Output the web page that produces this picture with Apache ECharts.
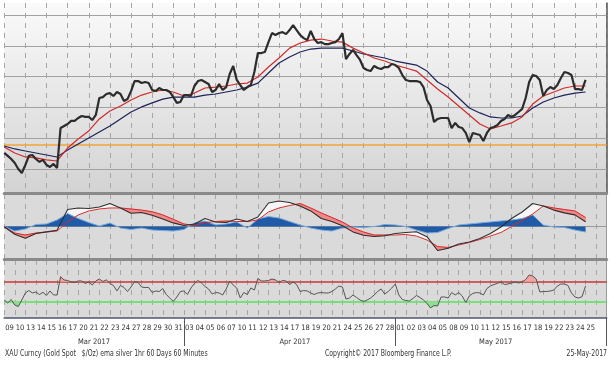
<!DOCTYPE html>
<html><head><meta charset="utf-8">
<script src="https://cdn.jsdelivr.net/npm/echarts@6/dist/echarts.min.js"></script>
<style>html,body{margin:0;padding:0;background:#fff}#c{width:614px;height:370px}</style>
</head><body><div id="c"></div>
<script>
// ---------------- DATA ----------------
const dayLabels = ['09','10','13','14','15','16','17','20','21','22','23','24','27','28','29','30','31',
  '03','04','05','06','07','10','11','12','13','14','17','18','19','20','21','24','25','26','27','28',
  '01','02','03','04','05','08','09','10','11','12','15','16','17','18','19','22','23','24','25'];
const monthNames = ['Mar 2017','Apr 2017','May 2017'];
const samplesPerDay = 3; // price & RSI sampled every 8 hours

const price = [1210.4,1208.5,1206.5,1203.9,1200.0,1197.4,1202.6,1208.5,1209.1,1206.5,
1204.6,1205.9,1202.6,1201.3,1203.3,1200.7,1226.6,1227.9,1229.2,1231.2,
1231.2,1233.1,1234.4,1233.8,1233.8,1231.8,1235.1,1246.1,1246.7,1248.7,
1249.3,1247.4,1250.0,1248.7,1244.2,1245.4,1250.6,1257.1,1257.1,1255.8,
1256.5,1255.8,1251.3,1250.6,1252.6,1251.3,1251.3,1250.0,1246.7,1242.9,
1243.5,1248.0,1248.0,1247.4,1253.9,1257.1,1257.8,1256.5,1255.2,1250.0,
1251.3,1255.2,1251.3,1253.2,1261.7,1266.9,1257.8,1254.5,1251.3,1253.2,
1254.5,1263.0,1275.3,1275.3,1276.0,1282.4,1288.3,1287.0,1288.3,1288.9,
1287.6,1290.2,1293.5,1290.2,1287.0,1285.0,1283.7,1289.6,1284.4,1281.8,
1282.4,1281.1,1281.1,1281.8,1282.4,1284.4,1288.3,1271.4,1274.7,1277.3,
1274.0,1270.8,1265.6,1264.3,1263.6,1266.9,1265.6,1264.9,1266.2,1266.2,
1268.2,1267.5,1265.6,1261.0,1257.8,1257.1,1257.1,1257.1,1256.5,1253.2,
1244.8,1240.9,1230.5,1232.5,1233.1,1233.1,1233.1,1226.6,1229.9,1227.3,
1226.6,1223.4,1217.5,1223.4,1222.7,1222.1,1218.2,1223.4,1226.6,1227.3,
1228.6,1231.2,1232.5,1235.1,1233.8,1235.1,1237.0,1239.0,1246.1,1256.5,
1261.0,1260.4,1257.8,1247.4,1251.3,1253.2,1251.9,1254.5,1259.1,1263.0,
1262.3,1261.0,1251.9,1251.9,1251.3,1257.8];

const emaFast = [1214.3,1210.4,1207.8,1207.2,1205.9,1205.2,1213.6,1219.5,1224.7,1232.5,
1237.7,1240.9,1244.8,1248.0,1250.0,1251.3,1250.0,1247.4,1249.3,1252.6,
1253.2,1253.9,1255.2,1255.8,1259.7,1266.2,1272.1,1278.5,1281.8,1283.7,
1284.4,1283.1,1282.4,1278.5,1275.3,1272.1,1270.1,1267.5,1265.6,1263.6,
1257.8,1251.9,1246.7,1240.9,1235.1,1229.2,1226.0,1227.9,1229.9,1233.8,
1242.2,1247.4,1250.0,1252.6,1253.9,1253.9];

const emaSlow = [1214.9,1213.0,1211.7,1210.4,1209.1,1207.8,1212.3,1216.2,1220.1,1224.0,
1227.9,1232.5,1237.0,1240.3,1242.9,1245.4,1246.7,1246.7,1246.7,1248.0,
1248.7,1250.0,1251.3,1253.2,1255.8,1262.3,1268.8,1272.7,1276.0,1277.9,
1278.5,1278.5,1278.5,1276.6,1274.7,1273.4,1272.1,1270.1,1268.8,1267.5,
1263.6,1256.5,1252.6,1246.1,1239.6,1236.4,1233.8,1233.1,1233.1,1234.4,
1239.6,1243.5,1246.1,1248.0,1249.3,1250.0];

const macdLine = [-0.05,-1.95,-2.95,-1.75,-1.35,-0.95,4.25,4.63,4.5,4.88,
5.75,4.63,3.3,3.5,2.8,1.9,0.9,0.25,0.63,2.0,
1.13,1.0,1.88,1.25,2.38,5.88,6.38,6.0,5.1,3.9,
2.0,1.25,0.2,-1.35,-2.2,-2.5,-2.3,-1.75,-1.5,-1.3,
-2.55,-6.0,-5.45,-4.38,-3.88,-3.0,-1.75,-0.13,2.0,3.63,
5.75,5.13,4.1,3.4,2.9,1.2];

const macdSignal = [-0.13,-1.63,-2.13,-1.63,-1.38,-1.13,1.13,2.88,3.88,4.38,
4.63,4.63,4.38,4.1,3.7,2.9,1.8,0.63,0.25,1.0,
1.25,1.38,1.25,1.25,1.63,3.63,4.63,5.25,5.75,4.63,
3.38,2.25,1.13,-0.38,-1.38,-2.13,-2.13,-2.13,-2.0,-2.38,
-3.38,-5.0,-5.25,-4.63,-4.0,-3.25,-2.38,-1.5,0,1.5,
3.13,5.13,4.63,4.25,3.88,2.25];

const macdHist = [0,-1.13,-0.63,0.5,0.63,1.63,3.25,2.0,1.0,0.13,
0.88,-0.38,-0.75,-0.38,-0.88,-1.0,-1.13,-0.75,0.88,1.38,
0.38,0.63,1.13,-0.38,1.88,2.5,2.13,1.25,0.38,-0.38,
-0.88,-1.13,-0.38,-0.13,-0.25,0,0.5,0.38,0,-0.88,
-1.63,-1.5,-0.5,0.38,0.63,0.88,1.13,1.38,1.63,2.0,
2.88,0.38,-0.13,-0.25,-0.88,-1.38];

const rsi = [34.0,28.2,35.0,24.3,21.4,34.0,47.7,52.5,47.7,49.6,
44.7,49.0,42.8,51.6,43.8,43.8,79.4,73.0,72.0,69.1,
68.1,71.0,71.0,66.2,69.1,63.2,71.0,74.9,70.0,73.0,
66.5,62.3,51.6,62.3,58.4,50.6,59.3,70.0,68.1,59.3,
58.4,58.4,48.6,51.6,50.6,56.4,44.7,37.9,31.1,39.9,
50.6,51.6,44.7,57.4,66.2,72.0,67.1,60.3,55.5,45.7,
48.6,47.7,43.8,55.5,71.0,63.2,57.4,37.9,48.6,44.7,
57.4,53.5,75.9,71.0,71.0,72.0,74.9,73.0,68.1,72.0,
71.0,64.2,69.1,64.2,50.6,52.5,51.6,47.7,44.7,47.7,
48.6,47.7,47.7,50.6,55.5,61.3,59.3,36.0,37.9,43.8,
38.9,34.0,31.1,34.0,37.9,43.8,50.6,55.5,45.7,50.6,
57.4,65.2,43.8,35.0,33.1,32.1,37.0,42.8,38.9,34.0,
27.6,18.5,23.3,22.4,39.9,39.9,37.9,48.6,43.8,48.6,
41.8,29.2,41.8,46.7,48.6,47.7,43.8,56.4,61.3,64.2,
66.5,69.1,64.2,65.2,67.1,69.1,67.1,69.1,73.9,82.7,
80.8,74.9,49.6,50.6,50.6,51.6,53.5,61.3,65.2,65.2,
62.3,47.7,39.9,37.9,40.5,61.3];

const priceGridLevels = [1200,1220,1240,1260,1280,1300];
const supportLevel = 1216;
const rsiHigh = 70, rsiLow = 30;
const footerLeft = 'XAU Curncy (Gold Spot   $/Oz) ema silver 1hr 60 Days 60 Minutes';
const footerMid = 'Copyright\u00A9 2017 Bloomberg Finance L.P.';
const footerRight = '25-May-2017';

// ---------------- BUILD ----------------
const FONT = "'DejaVu Sans Condensed','Liberation Sans Narrow',sans-serif";
const cats = dayLabels.concat(['']);
const nBands = cats.length;
const monthStarts = [0];
for (let i = 1; i < dayLabels.length; i++) if (+dayLabels[i] < +dayLabels[i-1]) monthStarts.push(i);
const monthCats = cats.map(() => '');
monthStarts.forEach((s, m) => {
  const e = m + 1 < monthStarts.length ? monthStarts[m+1] : dayLabels.length;
  monthCats[Math.floor((s + e) / 2)] = monthNames[m];
});

const intraday = arr => arr.map((v, k) => [k / samplesPerDay, v]);
const daily = arr => arr.map((v, i) => [i, v]);
const dailyX = macdLine.map((v, i) => i);
const intraX = rsi.map((v, k) => k / samplesPerDay);

// segments for filling between two curves a and b
function segments(xs, a, b) {
  const out = [];
  for (let i = 0; i < xs.length - 1; i++) out.push([xs[i], xs[i+1], a[i], a[i+1], b[i], b[i+1]]);
  return out;
}
function fillRender(colAbove, colBelow) {
  return function (params, api) {
    const x0 = api.value(0), x1 = api.value(1), a0 = api.value(2), a1 = api.value(3), b0 = api.value(4), b1 = api.value(5);
    const d0 = a0 - b0, d1 = a1 - b1;
    const children = [];
    const poly = (pts, d) => {
      const c = d > 0 ? colAbove : (d < 0 ? colBelow : null);
      if (!c) return;
      children.push({type: 'polygon', shape: {points: pts.map(p => api.coord(p))}, style: {fill: c, stroke: c, lineWidth: 0.6}});
    };
    if (d0 * d1 < 0) {
      const t = d0 / (d0 - d1);
      const xc = x0 + t * (x1 - x0), yc = a0 + t * (a1 - a0);
      poly([[x0, a0], [xc, yc], [x0, b0]], d0);
      poly([[xc, yc], [x1, a1], [x1, b1]], d1);
    } else {
      poly([[x0, a0], [x1, a1], [x1, b1], [x0, b0]], d0 + d1);
    }
    return {type: 'group', children};
  };
}
const fillSeries = (xi, yi, data, above, below) => ({
  type: 'custom', xAxisIndex: xi, yAxisIndex: yi, data: data, silent: true, animation: false, clip: true,
  dimensions: ['x0','x1','a0','a1','b0','b1'], encode: {x: [0, 1], y: [2, 3, 4, 5]},
  renderItem: fillRender(above, below)
});

const GL = 4.2, GW = 602.5;
const splitDash = {show: true, lineStyle: {color: '#a6a6a6', width: 1, type: [5, 5]}};
const catAxis = (gi, extra) => Object.assign({
  type: 'category', gridIndex: gi, data: cats, position: 'bottom',
  axisTick: {show: false}, axisLabel: {show: false}, splitLine: splitDash,
  axisLine: {show: true, onZero: false, lineStyle: {color: '#8a8a8a', width: 3}}
}, extra || {});
const valAxis = gi => ({type: 'value', gridIndex: gi, min: 0, max: nBands, show: false});
const yAx = (gi, min, max, col, w) => ({type: 'value', gridIndex: gi, min: min, max: max, position: 'right',
  axisLine: {show: true, onZero: false, lineStyle: {color: col, width: w}}, axisTick: {show: false}, axisLabel: {show: false}, splitLine: {show: false}});
const base = {type: 'line', showSymbol: false, symbol: 'none', animation: false, silent: true};
const S = o => Object.assign({}, base, o);
const footer = (txt, x, align) => ({type: 'text', x: x, y: 349, scaleX: 0.76, silent: true,
  style: {text: txt, fill: '#333', font: '9px ' + FONT, textAlign: align, textVerticalAlign: 'top'}});

const option = {
  backgroundColor: '#ffffff',
  animation: false,
  grid: [
    {left: GL, width: GW, top: 3, height: 190, show: true, borderWidth: 0,
     backgroundColor: new echarts.graphic.LinearGradient(0, 0, 0, 1, [{offset: 0, color: '#fafafa'}, {offset: 1, color: '#d3d3d3'}])},
    {left: GL, width: GW, top: 194, height: 65, show: true, borderWidth: 0, backgroundColor: '#dadada'},
    {left: GL, width: GW, top: 260, height: 58, show: true, borderWidth: 0, backgroundColor: '#dadada'}
  ],
  xAxis: [
    valAxis(0), catAxis(0),
    valAxis(1), catAxis(1),
    valAxis(2),
    catAxis(2, {axisLine: {show: true, onZero: false, lineStyle: {color: '#4f5573', width: 1.5}},
      axisLabel: {show: true, interval: 0, fontSize: 7.5, color: '#333', margin: 6, fontFamily: FONT}}),
    {type: 'category', gridIndex: 2, data: monthCats, position: 'bottom',
      axisLine: {show: false, onZero: false}, splitLine: {show: false},
      axisTick: {show: true, interval: i => i > 0 && monthStarts.indexOf(i) >= 0, length: 28, lineStyle: {color: '#555', width: 1}},
      axisLabel: {show: true, interval: 0, fontSize: 7.5, color: '#333', margin: 20, fontFamily: FONT}}
  ],
  yAxis: [
    yAx(0, 1184.4, 1307.8, '#555', 1.5),
    yAx(1, -8.125, 8.125, '#9a9a9a', 1),
    yAx(2, -1, 111.9, '#9a9a9a', 1)
  ],
  graphic: [
    footer(footerLeft, 5, 'left'),
    footer(footerMid, 325, 'left'),
    footer(footerRight, 607, 'right')
  ],
  series: [
    // main panel
    S({name: 'emaSlow', xAxisIndex: 0, yAxisIndex: 0, data: daily(emaSlow), lineStyle: {color: '#1c2356', width: 1.2},
      markLine: {silent: true, symbol: 'none', z: 1, label: {show: false}, animation: false,
        data: priceGridLevels.map(v => ({yAxis: v, lineStyle: {color: '#a2a2a2', width: 1, type: 'solid'}}))
          .concat([{yAxis: supportLevel, lineStyle: {color: '#f3a33a', width: 1.5, type: 'solid'}}])}}),
    S({name: 'emaFast', xAxisIndex: 0, yAxisIndex: 0, data: daily(emaFast), lineStyle: {color: '#d02a2a', width: 1.2}}),
    S({name: 'price', xAxisIndex: 0, yAxisIndex: 0, data: intraday(price), lineStyle: {color: '#2c2c2c', width: 2.2}}),
    // MACD panel
    S({name: 'hist', xAxisIndex: 2, yAxisIndex: 1, data: daily(macdHist), lineStyle: {color: '#7aa9dc', width: 1},
      areaStyle: {color: '#1f5ba6', opacity: 1},
      markLine: {silent: true, symbol: 'none', z: 1, label: {show: false}, animation: false, data: [{yAxis: 0, lineStyle: {color: '#9a9a9a', width: 1, type: 'solid'}}]}}),
    fillSeries(2, 1, segments(dailyX, macdLine, macdSignal), '#f6f6f6', '#f08a8a'),
    S({name: 'signal', xAxisIndex: 2, yAxisIndex: 1, data: daily(macdSignal), lineStyle: {color: '#d52b2b', width: 1}}),
    S({name: 'macd', xAxisIndex: 2, yAxisIndex: 1, data: daily(macdLine), lineStyle: {color: '#2e2e2e', width: 1.1}}),
    // RSI panel
    fillSeries(4, 2, segments(intraX, rsi, rsi.map(() => rsiHigh)), '#f2a4a4', null),
    fillSeries(4, 2, segments(intraX, rsi, rsi.map(() => rsiLow)), null, '#8ee08e'),
    S({name: 'rsi', xAxisIndex: 4, yAxisIndex: 2, data: intraday(rsi), lineStyle: {color: '#555555', width: 1},
      markLine: {silent: true, symbol: 'none', z: 1, label: {show: false}, animation: false, data: [
        {yAxis: rsiHigh, lineStyle: {color: '#c83636', width: 1.5, type: 'solid'}},
        {yAxis: rsiLow, lineStyle: {color: '#78e078', width: 2, type: 'solid'}}]}})
  ]
};
const chart = echarts.init(document.getElementById('c'));
chart.setOption(option);
</script>
</body></html>
